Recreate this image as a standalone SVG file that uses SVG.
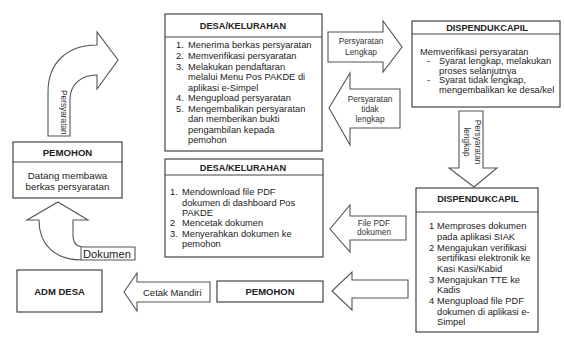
<svg xmlns="http://www.w3.org/2000/svg" width="564" height="338" viewBox="0 0 564 338">
<style>
  .box{fill:#fff;stroke:#444;stroke-width:1.2}
  .arr{fill:#fff;stroke:#555;stroke-width:1.1;stroke-linejoin:miter}
  .t{font-family:"Liberation Sans",Arial,sans-serif;font-size:9.3px;fill:#222}
  .h{font-family:"Liberation Sans",Arial,sans-serif;font-size:9.2px;font-weight:bold;fill:#222;text-anchor:middle}
  .c{text-anchor:middle}
  .s{font-family:"Liberation Sans",Arial,sans-serif;font-size:8.3px;fill:#333;text-anchor:middle}
</style>
<rect width="564" height="338" fill="#fff"/>

<g id="connectors">
  <path class="arr" d="M48,136 L48,92 C48,62 68,45 97,45 L97,32 L118,60 L97,89 L97,75 C80,75 70,85 70,100 L70,136 Z"/>
  <text class="s" style="text-anchor:start" transform="translate(60.5,90) rotate(90)">Persyaratan</text>

  <polygon class="arr" points="328,32 383,32 383,21 402,47 383,72 383,62 328,62"/>
  <text class="s" x="361" y="44">Persyaratan</text>
  <text class="s" x="361" y="55">Lengkap</text>

  <polygon class="arr" points="400,89 350,89 350,73 329,108 350,145 350,128 400,128"/>
  <text class="s" x="370" y="102">Persyaratan</text>
  <text class="s" x="370" y="112">tidak</text>
  <text class="s" x="370" y="122">lengkap</text>

  <polygon class="arr" points="459,111 483,111 483,168 497,168 474,187 449,168 459,168"/>
  <text class="s" transform="translate(475,142) rotate(90)">Persyaratan</text>
  <text class="s" transform="translate(463.5,142) rotate(90)">lengkap</text>

  <polygon class="arr" points="406,216 350,216 350,205 330,229 350,252 350,240 406,240"/>
  <text class="s" x="374" y="226">File PDF</text>
  <text class="s" x="374" y="235">dokumen</text>

  <polygon class="arr" points="408,280 352,280 352,272 332,291 352,310 352,298 408,298"/>

  <polygon class="arr" points="210,282 137,282 137,273 124,292 137,311 137,302 210,302"/>
  <text class="t" style="font-size:9.5px" x="143" y="295.5">Cetak Mandiri</text>

  <path class="arr" d="M58,202 L88,220 L73,220 L73,235 C73,243 76,247 84,247 L135,247 L135,260 L82,260 C55,260 39,245 39,220 L27,220 Z"/>
  <line x1="81" y1="247" x2="81" y2="260" stroke="#555" stroke-width="1"/>
  <text class="t" style="font-size:11.2px" x="83" y="257.5">Dokumen</text>
</g>

<g id="pemohon-top">
  <rect class="box" x="13" y="142" width="109" height="56"/>
  <line x1="13" y1="162" x2="122" y2="162" stroke="#444" stroke-width="1.2"/>
  <text class="h" style="font-size:9.6px" x="67.5" y="155.5">PEMOHON</text>
  <text class="t c" style="font-size:9.8px" x="67.5" y="178.5">Datang membawa</text>
  <text class="t c" style="font-size:9.8px" x="67.5" y="189.5">berkas persyaratan</text>
</g>

<g id="desa-top">
  <rect class="box" x="165" y="14" width="157" height="137"/>
  <line x1="165" y1="37" x2="322" y2="37" stroke="#444" stroke-width="1.2"/>
  <text class="h" x="243" y="29">DESA/KELURAHAN</text>
  <g class="t">
    <text x="176" y="47.5">1.</text><text x="188" y="47.5">Menerima berkas persyaratan</text>
    <text x="176" y="58.5">2.</text><text x="188" y="58.5">Memverifikasi persyaratan</text>
    <text x="176" y="69.5">3.</text><text x="188" y="69.5">Melakukan pendaftaran</text>
    <text x="188" y="80">melalui Menu Pos PAKDE di</text>
    <text x="188" y="90.5">aplikasi e-Simpel</text>
    <text x="176" y="101">4.</text><text x="188" y="101">Mengupload persyaratan</text>
    <text x="176" y="111.5">5.</text><text x="188" y="111.5">Mengembalikan persyaratan</text>
    <text x="188" y="122">dan memberikan bukti</text>
    <text x="188" y="132.5">pengambilan kepada</text>
    <text x="188" y="143">pemohon</text>
  </g>
</g>

<g id="dispendukcapil-top">
  <rect class="box" x="412" y="21" width="148" height="86"/>
  <line x1="412" y1="34" x2="560" y2="34" stroke="#444" stroke-width="1.2"/>
  <text class="h" x="487" y="31">DISPENDUKCAPIL</text>
  <g class="t">
    <text x="420" y="55">Memverifikasi persyaratan</text>
    <text x="427" y="64">-</text><text x="439" y="64">Syarat lengkap, melakukan</text>
    <text x="439" y="73.5">proses selanjutnya</text>
    <text x="427" y="83">-</text><text x="439" y="83">Syarat tidak lengkap,</text>
    <text x="439" y="93">mengembalikan ke desa/kel</text>
  </g>
</g>

<g id="desa-bottom">
  <rect class="box" x="165" y="159" width="158" height="98"/>
  <line x1="165" y1="175" x2="323" y2="175" stroke="#444" stroke-width="1.2"/>
  <text class="h" x="243" y="170.5">DESA/KELURAHAN</text>
  <g class="t">
    <text x="170" y="195">1.</text><text x="182" y="195">Mendownload file PDF</text>
    <text x="182" y="205.5">dokumen di dashboard Pos</text>
    <text x="182" y="216">PAKDE</text>
    <text x="170" y="226">2</text><text x="182" y="226">Mencetak dokumen</text>
    <text x="170" y="236.5">3.</text><text x="182" y="236.5">Menyerahkan dokumen ke</text>
    <text x="182" y="247">pemohon</text>
  </g>
</g>

<g id="dispendukcapil-bottom">
  <rect class="box" x="416" y="188" width="122" height="144"/>
  <line x1="416" y1="212" x2="538" y2="212" stroke="#444" stroke-width="1.2"/>
  <text class="h" x="478" y="201.5">DISPENDUKCAPIL</text>
  <g class="t">
    <text x="429" y="229">1</text><text x="437" y="229">Memproses dokumen</text>
    <text x="437" y="240">pada aplikasi SIAK</text>
    <text x="429" y="251">2</text><text x="437" y="251">Mengajukan verifikasi</text>
    <text x="437" y="261">sertifikasi elektronik ke</text>
    <text x="437" y="271.5">Kasi Kasi/Kabid</text>
    <text x="429" y="283">3</text><text x="437" y="283">Mengajukan TTE ke</text>
    <text x="437" y="293">Kadis</text>
    <text x="429" y="304">4</text><text x="437" y="304">Mengupload file PDF</text>
    <text x="437" y="315">dokumen di aplikasi e-</text>
    <text x="437" y="325">Simpel</text>
  </g>
</g>

<g id="pemohon-bottom">
  <rect class="box" x="217" y="281" width="106" height="21"/>
  <text class="h" style="font-size:9.5px" x="270" y="294.5">PEMOHON</text>
</g>

<g id="adm-desa">
  <rect class="box" x="17" y="270" width="85" height="42"/>
  <text class="h" style="font-size:9.5px" x="59.5" y="294.5">ADM DESA</text>
</g>
</svg>
